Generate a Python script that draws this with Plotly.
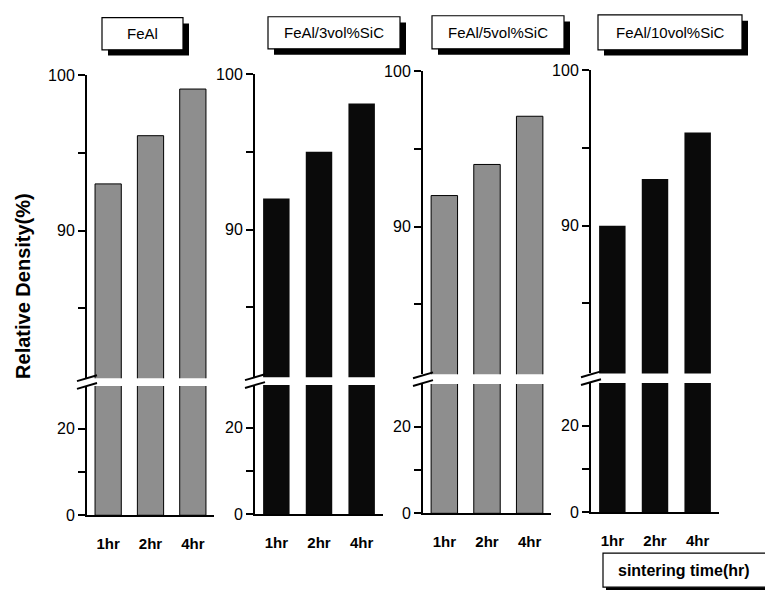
import plotly.graph_objects as go

# ---------------- data ----------------
times = ["1hr", "2hr", "4hr"]
materials = ["FeAl", "FeAl/3vol%SiC", "FeAl/5vol%SiC", "FeAl/10vol%SiC"]
feal = [93.0, 96.1, 99.1]
feal_3sic = [92.0, 95.0, 98.1]
feal_5sic = [92.0, 94.0, 97.1]
feal_10sic = [90.0, 93.0, 96.0]
series = [feal, feal_3sic, feal_5sic, feal_10sic]
upper_range = [80.5, 100]
lower_range = [0, 29.9]
upper_tickvals = [85, 90, 95, 100]
upper_ticktext = ["", "90", "", "100"]
lower_tickvals = [0, 10, 20]
lower_ticktext = ["0", "", "20"]
y_title = "Relative Density(%)"
x_title = "sintering time(hr)"

# ---------------- styling / layout ----------------
W, H = 765, 602
FONT = "Arial, Liberation Sans, Helvetica, sans-serif"
bar_colors = ["#8e8e8e", "#0a0a0a", "#8e8e8e", "#0a0a0a"]
x_px = [(87, 214), (255, 383), (423, 551), (591, 719)]
up_top_px = [69, 68, 65, 64]
lo_zero_px = [522, 521, 520, 519]
PX_UP = 16.0      # pixels per unit in upper part
PX_LO = 4.45      # pixels per unit in lower part
title_boxes = [(102, 10, 183, 43), (268, 9, 400, 42), (432, 8, 564, 42), (598, 7, 742, 43)]


def fx(p):
    return p / W


def fy(p):
    return 1 - p / H


fig = go.Figure()
layout = dict(
    width=W, height=H, margin=dict(l=0, r=0, t=0, b=0),
    paper_bgcolor="white", plot_bgcolor="white",
    showlegend=False, bargap=0.38,
    font=dict(family=FONT, color="black", size=15),
)
shapes = []
annotations = []

for i, vals in enumerate(series):
    up = 2 * i + 1
    lo = 2 * i + 2
    x0, x1 = x_px[i]
    ut = up_top_px[i]
    ub = ut + (upper_range[1] - upper_range[0]) * PX_UP
    lz = lo_zero_px[i]
    lt = lz - (lower_range[1] - lower_range[0]) * PX_LO
    line_w = 1 if i % 2 == 0 else 0
    for ax_n in (up, lo):
        fig.add_trace(go.Bar(
            x=times, y=vals, xaxis=f"x{ax_n}", yaxis=f"y{ax_n}",
            marker=dict(color=bar_colors[i], line=dict(color="black", width=line_w)),
            hoverinfo="x+y",
        ))
    yax_common = dict(
        showline=True, linecolor="black", linewidth=2, ticks="outside",
        ticklen=7, tickwidth=1.5, tickcolor="black", showgrid=False, zeroline=False,
        tickfont=dict(size=16, family=FONT), fixedrange=True, tickmode="array",
    )
    layout[f"xaxis{up}"] = dict(
        domain=[fx(x0), fx(x1)], anchor=f"y{up}", visible=False,
        range=[-0.5, 2.5], type="category", categoryarray=times, fixedrange=True,
    )
    layout[f"yaxis{up}"] = dict(
        domain=[fy(ub), fy(ut)], anchor=f"x{up}", range=upper_range,
        tickvals=upper_tickvals, ticktext=upper_ticktext,
        **yax_common,
    )
    layout[f"xaxis{lo}"] = dict(
        domain=[fx(x0), fx(x1)], anchor=f"y{lo}", range=[-0.5, 2.5],
        type="category", categoryarray=times,
        showline=True, linecolor="black", linewidth=2, ticks="", showgrid=False,
        tickfont=dict(size=15, family=FONT, color="black"), ticklabelstandoff=14,
        fixedrange=True, tickmode="array", tickvals=times,
        ticktext=[f"<b>{t}</b>" for t in times],
    )
    layout[f"yaxis{lo}"] = dict(
        domain=[fy(lz), fy(lt)], anchor=f"x{lo}", range=lower_range,
        tickvals=lower_tickvals, ticktext=lower_ticktext,
        **yax_common,
    )

    # axis-break marks  "//"
    gap_mid = (ub + lt) / 2
    for dy in (-4, 4):
        shapes.append(dict(
            type="line", xref="paper", yref="paper",
            x0=fx(x0 - 10), y0=fy(gap_mid + dy + 3),
            x1=fx(x0 + 10), y1=fy(gap_mid + dy - 3),
            line=dict(color="black", width=2),
        ))

    # title box with shadow
    bx0, by0, bx1, by1 = title_boxes[i]
    shapes.append(dict(type="rect", xref="paper", yref="paper",
                       x0=fx(bx0 + 6), y0=fy(by1 + 6), x1=fx(bx1 + 6), y1=fy(by0 + 6),
                       fillcolor="black", line=dict(width=0)))
    shapes.append(dict(type="rect", xref="paper", yref="paper",
                       x0=fx(bx0), y0=fy(by1), x1=fx(bx1), y1=fy(by0),
                       fillcolor="white", line=dict(color="black", width=1.2)))
    annotations.append(dict(
        text=materials[i], xref="paper", yref="paper",
        x=fx((bx0 + bx1) / 2), y=fy((by0 + by1) / 2),
        xanchor="center", yanchor="middle", showarrow=False,
        font=dict(size=15, family=FONT, color="black"),
    ))

# x-axis title box
sx0, sy0, sx1, sy1 = 603, 561, 772, 596
shapes.append(dict(type="rect", xref="paper", yref="paper",
                   x0=fx(sx0 + 3), y0=fy(sy1 + 3), x1=fx(sx1 + 3), y1=fy(sy0 + 3),
                   fillcolor="black", line=dict(width=0)))
shapes.append(dict(type="rect", xref="paper", yref="paper",
                   x0=fx(sx0), y0=fy(sy1), x1=fx(sx1), y1=fy(sy0),
                   fillcolor="white", line=dict(color="black", width=1.2)))
annotations.append(dict(
    text=f"<b>{x_title}</b>", xref="paper", yref="paper",
    x=fx(684), y=fy(579), xanchor="center", yanchor="middle", showarrow=False,
    font=dict(size=16, family=FONT, color="black"),
))
# y-axis title
annotations.append(dict(
    text=f"<b>{y_title}</b>", xref="paper", yref="paper",
    x=fx(23), y=fy(286), xanchor="center", yanchor="middle", showarrow=False,
    textangle=-90, font=dict(size=20, family=FONT, color="black"),
))

layout["shapes"] = shapes
layout["annotations"] = annotations
fig.update_layout(**layout)

fig.write_html("out.html", config={"displayModeBar": False},
               post_script="document.body.style.margin='0';")
